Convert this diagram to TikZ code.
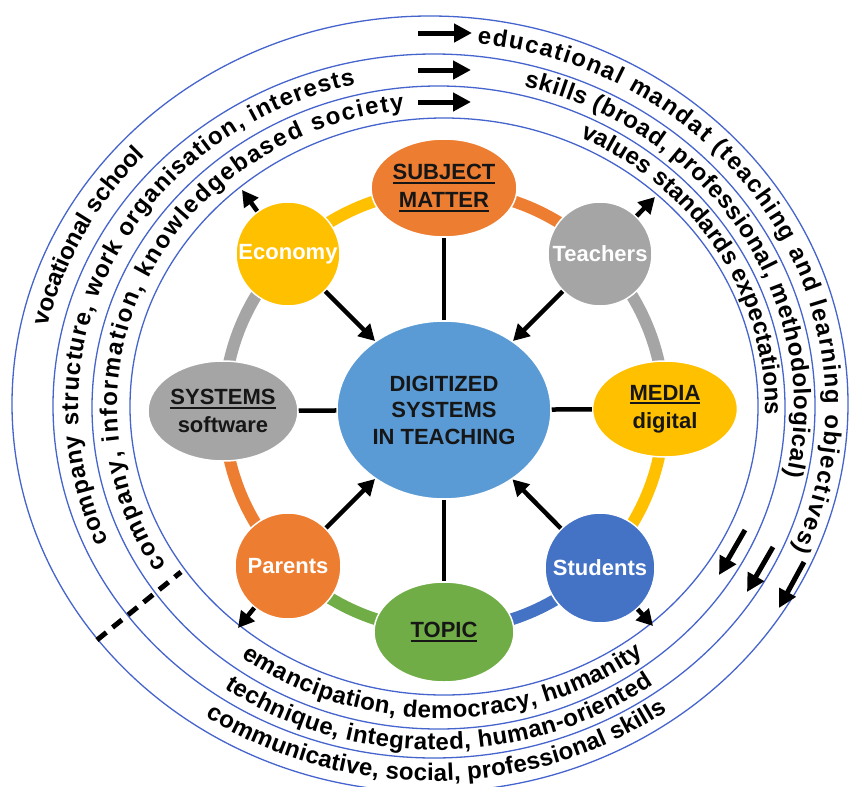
\documentclass[tikz,border=0pt]{standalone}
\usepackage{fontspec}
\setmainfont{Liberation Sans}
\usetikzlibrary{decorations.text, arrows.meta, calc, shapes.geometric}

\definecolor{ringblue}{RGB}{70,100,205}
\definecolor{hubblue}{RGB}{91,155,213}
\definecolor{studblue}{RGB}{68,114,196}
\definecolor{orangeA}{RGB}{237,125,49}
\definecolor{grayA}{RGB}{165,165,165}
\definecolor{yellowA}{RGB}{255,192,0}
\definecolor{greenA}{RGB}{112,173,71}
\definecolor{inkA}{RGB}{22,22,22}

\newsavebox\ulbox
\newcommand{\ulword}[1]{\sbox\ulbox{#1}\rlap{\rule[-4pt]{\wd\ulbox}{2pt}}\usebox\ulbox}
\newcommand{\bandfont}{\fontsize{24}{24}\selectfont\bfseries}

\tikzset{
  ring/.style={draw=ringblue, line width=1.3pt},
  bandtext/.style={decorate, decoration={text along path, text={|\bandfont|#1},
      text align={fit to path}, raise=-6pt}},
  seg/.style={line width=12pt},
  hubnode/.style={ellipse, fill=hubblue, draw=white, line width=1.5pt, inner sep=0pt,
      minimum width=214pt, minimum height=178pt, align=center, text=inkA,
      font=\fontsize{22}{26.5}\selectfont\bfseries},
  ovalnode/.style={ellipse, draw=white, line width=1.5pt, inner sep=0pt, align=center,
      text=inkA, font=\fontsize{22}{28}\selectfont\bfseries},
  roundnode/.style={circle, draw=white, line width=1.5pt, inner sep=0pt, align=center,
      text=white, font=\fontsize{22}{26}\selectfont\bfseries},
  spoke/.style={line width=4.5pt, draw=black},
  arr/.style={line width=4.5pt, draw=black, -{Triangle[length=16pt,width=17pt]}},
  flowarr/.style={line width=5pt, draw=black, -{Triangle[length=18pt,width=18pt]}},
  cut/.style={line width=5pt, draw=black, dash pattern=on 12pt off 8pt}
}

\begin{document}
\begin{tikzpicture}[x=1pt, y=1pt]
\fill[white] (0,0) rectangle (849,-787);
\useasboundingbox (0,0) rectangle (849,-787);

% the four bounding rings
\begin{scope}
\clip (0,0) rectangle (849,-787);
\draw[ring] (430,-404) ellipse [x radius=418pt, y radius=388pt];
\draw[ring] (434,-406) ellipse [x radius=381pt, y radius=352pt];
\draw[ring] (438.5,-407.5) ellipse [x radius=346.5pt, y radius=321.5pt];
\draw[ring] (444,-406.5) ellipse [x radius=314pt, y radius=288.5pt];
\end{scope}

% centre lines of the three bands
\coordinate (b1) at (432,-405);
\coordinate (b2) at (436,-407);
\coordinate (b3) at (441,-407);

% outer band
\path[bandtext={educational mandat (teaching and learning objectives)}]
  ($(b1)+(83.4:399.5pt and 370pt)$) arc[start angle=83.4, end angle=-23.5, x radius=399.5pt, y radius=370pt];
\path[bandtext={vocational school}]
  ($(b1)+(167.5:399.5pt and 370pt)$) arc[start angle=167.5, end angle=137, x radius=399.5pt, y radius=370pt];
\path[bandtext={communicative, social, professional skills}]
  ($(b1)+(236:399.5pt and 370pt)$) arc[start angle=236, end angle=305.5, x radius=399.5pt, y radius=370pt];

% middle band
\path[bandtext={skills (broad, professional, methodological)}]
  ($(b2)+(75.8:364pt and 337pt)$) arc[start angle=75.8, end angle=-12, x radius=364pt, y radius=337pt];
\path[bandtext={company structure, work organisation, interests}]
  ($(b2)+(204:364pt and 337pt)$) arc[start angle=204, end angle=103, x radius=364pt, y radius=337pt];
\path[bandtext={technique, integrated, human-oriented}]
  ($(b2)+(235:364pt and 337pt)$) arc[start angle=235, end angle=306, x radius=364pt, y radius=337pt];

% inner band
\path[bandtext={values standards expectations}]
  ($(b3)+(64.5:330pt and 305pt)$) arc[start angle=64.5, end angle=-1.5, x radius=330pt, y radius=305pt];
\path[bandtext={company, information, knowledgebased society}]
  ($(b3)+(212:330pt and 305pt)$) arc[start angle=212, end angle=96.5, x radius=330pt, y radius=305pt];
\path[bandtext={emancipation, democracy, humanity}]
  ($(b3)+(233.5:330pt and 305pt)$) arc[start angle=233.5, end angle=307, x radius=330pt, y radius=305pt];

% direction arrows in the bands
\coordinate (fa1) at (418,-33);  \coordinate (fb1) at (472,-33);
\coordinate (fa2) at (418,-70);  \coordinate (fb2) at (471,-70);
\coordinate (fa3) at (418,-102); \coordinate (fb3) at (471,-102);
\draw[flowarr] (fa1) -- (fb1);
\draw[flowarr] (fa2) -- (fb2);
\draw[flowarr] (fa3) -- (fb3);
\coordinate (da1) at (745,-530); \coordinate (db1) at (719,-575);
\coordinate (da2) at (773,-547); \coordinate (db2) at (747,-592);
\coordinate (da3) at (804,-562); \coordinate (db3) at (779,-608);
\draw[flowarr] (da1) -- (db1);
\draw[flowarr] (da2) -- (db2);
\draw[flowarr] (da3) -- (db3);

% dashed cut through the bands
\coordinate (cutA) at (97,-640);
\coordinate (cutB) at (181,-572);
\draw[cut] (cutA) -- (cutB);

% coloured ring joining the outer nodes
\coordinate (o) at (444,-410);
\draw[seg, yellowA] ($(o)+(135:220pt)$) arc[start angle=135, end angle=90, radius=220pt];
\draw[seg, orangeA] ($(o)+(90:220pt)$) arc[start angle=90, end angle=45, radius=220pt];
\draw[seg, grayA] ($(o)+(45:220pt)$) arc[start angle=45, end angle=0, radius=220pt];
\draw[seg, yellowA] ($(o)+(0:220pt)$) arc[start angle=0, end angle=-45, radius=220pt];
\draw[seg, studblue] ($(o)+(-45:220pt)$) arc[start angle=-45, end angle=-90, radius=220pt];
\draw[seg, greenA] ($(o)+(-90:220pt)$) arc[start angle=-90, end angle=-135, radius=220pt];
\draw[seg, orangeA] ($(o)+(-135:220pt)$) arc[start angle=-135, end angle=-180, radius=220pt];
\draw[seg, grayA] ($(o)+(180:220pt)$) arc[start angle=180, end angle=135, radius=220pt];

% nodes
\node[hubnode] (hub) at (o) {DIGITIZED\\SYSTEMS\\IN TEACHING};
\node[ovalnode, fill=orangeA, minimum width=146pt, minimum height=98pt] (subj) at (444,-188)
  {\ulword{SUBJECT}\\\ulword{MATTER}};
\node[roundnode, fill=grayA, minimum size=104pt] (teach) at (600,-254) {Teachers};
\node[ovalnode, fill=yellowA, minimum width=145pt, minimum height=96pt] (media) at (665,-409)
  {\ulword{MEDIA}\\digital};
\node[roundnode, fill=studblue, minimum size=110pt] (stud) at (600,-568) {Students};
\node[ovalnode, fill=greenA, minimum width=140pt, minimum height=100pt] (topic) at (444,-632)
  {\ulword{TOPIC}};
\node[roundnode, fill=orangeA, minimum size=106pt] (par) at (288,-566) {Parents};
\node[ovalnode, fill=grayA, minimum width=150pt, minimum height=100pt] (sys) at (223,-411)
  {\ulword{SYSTEMS}\\software};
\node[roundnode, fill=yellowA, minimum size=104pt] (eco) at (288,-254) {Economy};

% links between the hub and the outer nodes
\draw[spoke] (hub) -- (subj);
\draw[spoke] (hub) -- (media);
\draw[spoke] (hub) -- (topic);
\draw[spoke] (hub) -- (sys);
\draw[arr] (eco) -- (hub);
\draw[arr] (teach) -- (hub);
\draw[arr] (stud) -- (hub);
\draw[arr] (par) -- (hub);

\coordinate (ecoOut) at (242,-190);
\coordinate (teachOut) at (655,-197);
\coordinate (studOut) at (653,-626);
\coordinate (parOut) at (238,-628);
\draw[arr] (eco) -- (ecoOut);
\draw[arr] (teach) -- (teachOut);
\draw[arr] (stud) -- (studOut);
\draw[arr] (par) -- (parOut);
\end{tikzpicture}
\end{document}
